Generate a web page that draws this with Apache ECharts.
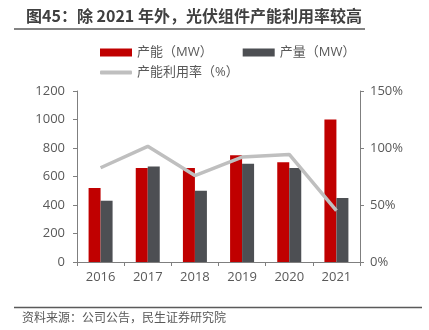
<!DOCTYPE html>
<html>
<head>
<meta charset="utf-8">
<script src="https://cdn.jsdelivr.net/npm/echarts@6/dist/echarts.min.js"></script>
<style>
html,body{margin:0;padding:0;background:#fff;}
#chart{width:429px;height:330px;}
</style>
</head>
<body>
<div id="chart"></div>
<script>
// Module capacity, output and utilisation by year
const years = ['2016', '2017', '2018', '2019', '2020', '2021'];
const capacity = [520, 660, 660, 750, 700, 1000];      // 产能（MW）
const output = [430, 670, 500, 690, 660, 450];         // 产量（MW）
const utilisation = [82.7, 101.5, 75.8, 92, 94.3, 45]; // 产能利用率（%）
const leftTicks = { min: 0, max: 1200, interval: 200 };
const rightTicks = { min: 0, max: 150, interval: 50 };

const FONT = '"Open Sans", "Noto Sans CJK SC", sans-serif';
const CJK = '"Noto Sans CJK SC", sans-serif';
const chart = echarts.init(document.getElementById('chart'));

chart.setOption({
  animation: false,
  textStyle: { fontFamily: FONT },
  title: {
    text: '图45：除 2021 年外，光伏组件产能利用率较高',
    left: 21, top: 3,
    textStyle: { fontSize: 16, fontWeight: 'bold', color: '#404040', fontFamily: CJK }
  },
  graphic: [
    { type: 'line', shape: { x1: 14, y1: 29, x2: 365, y2: 29 }, style: { stroke: '#5a5a5a', lineWidth: 1.5 } },
    { type: 'line', shape: { x1: 14, y1: 307.5, x2: 422, y2: 307.5 }, style: { stroke: '#5a5a5a', lineWidth: 1.5 } },
    { type: 'text', left: 22, top: 311, style: { text: '资料来源：公司公告，民生证券研究院', fill: '#595959', fontSize: 12, fontFamily: CJK } }
  ],
  legend: [
    {
      data: ['产能（MW）', '产量（MW）'],
      left: 95, top: 41, itemWidth: 32, itemHeight: 8, itemGap: 30,
      icon: 'rect',
      textStyle: { fontSize: 13, color: '#595959', fontFamily: FONT }
    },
    {
      data: ['产能利用率（%）'],
      left: 95, top: 61, itemWidth: 32, itemHeight: 4,
      icon: 'roundRect',
      textStyle: { fontSize: 13, color: '#595959', fontFamily: FONT }
    }
  ],
  grid: { left: 77, right: 69, top: 91, bottom: 68, containLabel: false },
  xAxis: {
    type: 'category',
    data: years,
    axisLine: { lineStyle: { color: '#7f7f7f' } },
    axisTick: { show: true, length: 4, lineStyle: { color: '#7f7f7f' } },
    axisLabel: { color: '#595959', fontSize: 13, margin: 9 }
  },
  yAxis: [
    {
      type: 'value', ...leftTicks,
      axisLine: { show: true, lineStyle: { color: '#7f7f7f' } },
      axisTick: { show: true, length: 4, lineStyle: { color: '#7f7f7f' } },
      splitLine: { show: false },
      axisLabel: { color: '#595959', fontSize: 13, margin: 12, formatter: v => String(v) }
    },
    {
      type: 'value', ...rightTicks,
      axisLine: { show: true, lineStyle: { color: '#7f7f7f' } },
      axisTick: { show: true, length: 4, lineStyle: { color: '#7f7f7f' } },
      splitLine: { show: false },
      axisLabel: { color: '#595959', fontSize: 13, margin: 10, formatter: '{value}%' }
    }
  ],
  series: [
    {
      name: '产能（MW）', type: 'bar', data: capacity,
      barWidth: 12, barGap: '0%',
      itemStyle: { color: '#C00000' }
    },
    {
      name: '产量（MW）', type: 'bar', data: output,
      barWidth: 12, barGap: '0%',
      itemStyle: { color: '#4D4F53' }
    },
    {
      name: '产能利用率（%）', type: 'line', yAxisIndex: 1, data: utilisation,
      symbol: 'none',
      lineStyle: { color: '#BFBFBF', width: 3.5 },
      itemStyle: { color: '#BFBFBF' }
    }
  ]
});
</script>
</body>
</html>
